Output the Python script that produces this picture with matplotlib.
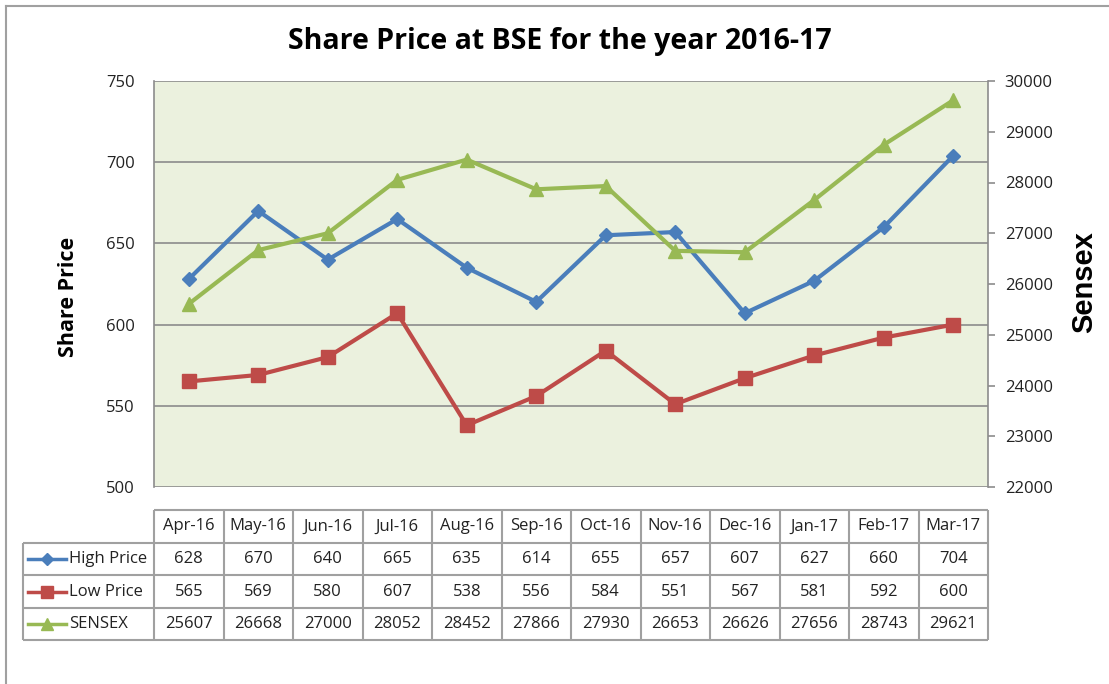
import matplotlib
matplotlib.use("Agg")
import matplotlib.pyplot as plt
from matplotlib.lines import Line2D

months = ["Apr-16", "May-16", "Jun-16", "Jul-16", "Aug-16", "Sep-16",
          "Oct-16", "Nov-16", "Dec-16", "Jan-17", "Feb-17", "Mar-17"]
high_price = [628, 670, 640, 665, 635, 614, 655, 657, 607, 627, 660, 704]
low_price = [565, 569, 580, 607, 538, 556, 584, 551, 567, 581, 592, 600]
sensex = [25607, 26668, 27000, 28052, 28452, 27866, 27930, 26653, 26626, 27656, 28743, 29621]

BLUE = "#4A7EBB"
RED = "#BE4B48"
GREEN = "#98B954"
GRID = "#8C8C8C"
FONT = ["Open Sans", "DejaVu Sans"]
TXT = 12

W, H = 1109, 684
fig = plt.figure(figsize=(W / 100, H / 100), dpi=100)


def px_rect(x0, y0, x1, y1):
    return [x0 / W, 1 - y1 / H, (x1 - x0) / W, (y1 - y0) / H]


# outer chart border (runs off the right/bottom of the image)
border = fig.add_axes([0, 0, 1, 1], zorder=-5)
border.set_xlim(0, W)
border.set_ylim(H, 0)
border.axis("off")
border.plot([6, W + 5], [6, 6], color="#A0A0A0", lw=1.5)
border.plot([6, 6], [6, H + 5], color="#A0A0A0", lw=1.5)

x = list(range(len(months)))
ax = fig.add_axes(px_rect(154, 81, 988, 487))
ax.set_facecolor("#EBF1DE")
ax.set_xlim(-0.5, len(months) - 0.5)
ax.set_ylim(500, 750)
ax.set_yticks([500, 550, 600, 650, 700, 750])
ax.set_xticks([])
ax.grid(axis="y", color=GRID, lw=1.2)
ax.set_axisbelow(True)
ax.tick_params(axis="y", length=0, pad=14, labelsize=TXT, labelcolor="#222222")
for lab in ax.get_yticklabels():
    lab.set_family(FONT)
for side in ("top", "right", "bottom"):
    ax.spines[side].set_visible(False)
ax.spines["left"].set_color(GRID)
ax.spines["left"].set_linewidth(1.2)

ax.plot(x, high_price, color=BLUE, lw=3, marker="D", ms=7.5, zorder=3)
ax.plot(x, low_price, color=RED, lw=3, marker="s", ms=9.5, zorder=3)

ax2 = ax.twinx()
ax2.set_ylim(22000, 30000)
ax2.set_yticks(range(22000, 30001, 1000))
ax2.tick_params(axis="y", length=5, width=1.2, color=GRID, pad=7,
                labelsize=TXT, labelcolor="#222222")
for lab in ax2.get_yticklabels():
    lab.set_family(FONT)
for side in ("top", "left", "bottom"):
    ax2.spines[side].set_visible(False)
ax2.spines["right"].set_color(GRID)
ax2.spines["right"].set_linewidth(1.2)
ax2.plot(x, sensex, color=GREEN, lw=3, marker="^", ms=10, zorder=3)

fig.text(560 / W, 1 - 42 / H, "Share Price at BSE for the year 2016-17",
         ha="center", va="center", fontsize=20.5, fontweight="bold", family=FONT)
fig.text(68 / W, 1 - 297 / H, "Share Price", rotation=90, ha="center",
         va="center", fontsize=15.5, fontweight="bold", family=FONT)
fig.text(1084 / W, 1 - 282 / H, "Sensex", rotation=90, ha="center",
         va="center", fontsize=21, fontweight="bold",
         family=["Liberation Sans", "DejaVu Sans"])

# data table below the plot
tab = fig.add_axes([0, 0, 1, 1], zorder=2)
tab.set_xlim(0, W)
tab.set_ylim(H, 0)
tab.axis("off")
left, x0, x1 = 23, 154, 988
rows_y = [510, 543, 575, 608, 640]
col_w = (x1 - x0) / len(months)
line_kw = dict(color="#A0A0A0", lw=1.5, solid_capstyle="butt")
for y in rows_y[1:]:
    tab.plot([left, x1], [y, y], **line_kw)
tab.plot([x0, x1], [rows_y[0], rows_y[0]], **line_kw)
tab.plot([left, left], [rows_y[1], rows_y[-1]], **line_kw)
for i in range(len(months) + 1):
    xc = x0 + i * col_w
    tab.plot([xc, xc], [rows_y[0], rows_y[-1]], **line_kw)

txt_kw = dict(ha="center", va="center", fontsize=TXT, family=FONT, color="#222222")
for i, m in enumerate(months):
    tab.text(x0 + (i + 0.5) * col_w, (rows_y[0] + rows_y[1]) / 2, m, **txt_kw)

series = [("High Price", high_price, BLUE, "D", 6.5),
          ("Low Price", low_price, RED, "s", 8.5),
          ("SENSEX", sensex, GREEN, "^", 9)]
for r, (name, vals, col, mk, ms) in enumerate(series):
    yc = (rows_y[r + 1] + rows_y[r + 2]) / 2
    tab.add_line(Line2D([28, 66], [yc, yc], color=col, lw=2.5))
    tab.add_line(Line2D([47], [yc], color=col, marker=mk, ms=ms, lw=0))
    tab.text(69, yc, name, ha="left", va="center", fontsize=TXT,
             family=FONT, color="#222222")
    for i, v in enumerate(vals):
        tab.text(x0 + (i + 0.5) * col_w, yc, str(v), **txt_kw)

fig.savefig("out.png", dpi=100)
